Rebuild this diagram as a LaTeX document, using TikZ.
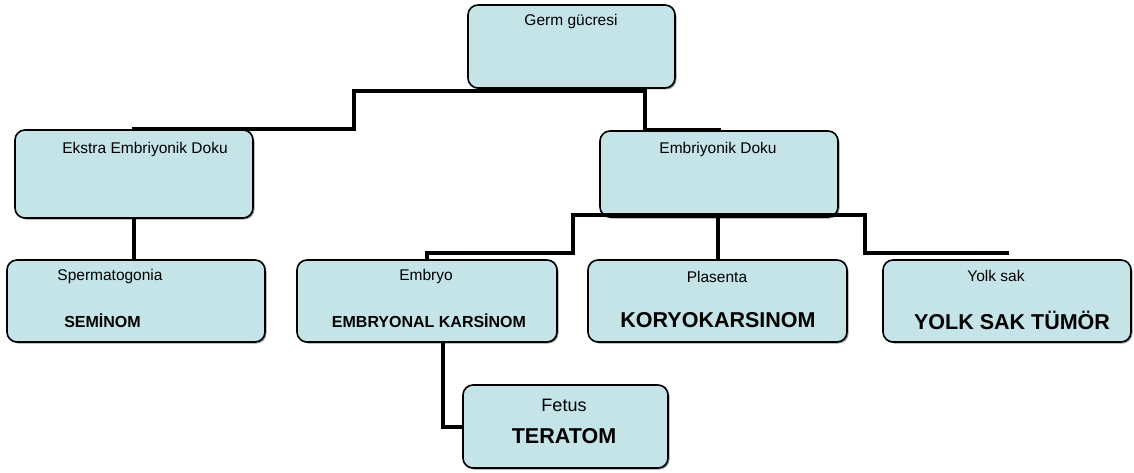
\documentclass[tikz,border=0pt]{standalone}
\usepackage{fontspec}
\setmainfont{Liberation Sans}
\usetikzlibrary{calc,shadows}
\definecolor{boxfill}{RGB}{197,228,232}
\begin{document}
\begin{tikzpicture}[x=1pt,y=-1pt,
  box/.style={draw=black, line width=1.6pt, fill=boxfill, rounded corners=10pt,
    inner sep=0pt, drop shadow={shadow xshift=1.5pt, shadow yshift=-1.5pt, fill=black!40, opacity=1}},
  conn/.style={line width=4pt, line join=miter, line cap=rect},
  small/.style={font=\fontsize{15.5}{18}\selectfont, inner sep=0pt},
  mid/.style={font=\fontsize{16}{19}\selectfont\bfseries, inner sep=0pt},
  big/.style={font=\fontsize{21.5}{25}\selectfont\bfseries, inner sep=0pt}]
\useasboundingbox (0,0) rectangle (1134,473);
% boxes
\node[box, minimum width=207pt, minimum height=83pt] (top) at (571.5,46.5) {};
\node[box, minimum width=238pt, minimum height=88pt] (ekstra) at (134,174) {};
\node[box, minimum width=238pt, minimum height=86pt] (embr) at (719,174) {};
\node[box, minimum width=258pt, minimum height=82pt] (sperm) at (136,301) {};
\node[box, minimum width=260pt, minimum height=82pt] (embryo) at (427,301) {};
\node[box, minimum width=259pt, minimum height=82pt] (plas) at (717.5,301) {};
\node[box, minimum width=248pt, minimum height=82pt] (yolk) at (1007,301) {};
\node[box, minimum width=205pt, minimum height=83pt] (fetus) at (565.5,426.5) {};
% connector helper points
\coordinate (b1) at (354,91);
\coordinate (b2) at (645,91);
\coordinate (b3) at (573,215);
\coordinate (b4) at (865,215);
\coordinate (f1) at (443,0);
% connectors
\draw[conn] (b1) -- (b2);
\draw[conn] (b1) |- (ekstra.north);
\draw[conn] (b2) |- (embr.north);
\draw[conn, line cap=butt] (ekstra.south) -- (ekstra.south |- sperm.north);
\draw[conn] (b3) -- (b4);
\draw[conn] (b3) |- ($(embryo.north)+(0,-6)$) -- (embryo.north);
\draw[conn, line cap=butt] (embr.south -| plas.north) -- (plas.north);
\draw[conn] (b4) |- ($(yolk.north)+(0,-6)$);
\draw[conn, line cap=butt] (embryo.south -| f1) |- (fetus.west);
% texts
\node[small] (t-top) at (571,21) {Germ gücresi};
\node[small] (t-ekstra) at (145,149) {Ekstra Embriyonik Doku};
\node[small] (t-embr) at (718,149) {Embriyonik Doku};
\node[small] (t-sperm) at (110,276) {Spermatogonia};
\node[mid] (t-sem) at (102.5,320.5) {SEMİNOM};
\node[small] (t-embryo) at (426,276) {Embryo};
\node[mid] (t-ek) at (429,321) {EMBRYONAL KARSİNOM};
\node[small] (t-plas) at (717,277) {Plasenta};
\node[big] (t-kor) at (718,320) {KORYOKARSINOM};
\node[small] (t-yolk) at (996,276) {Yolk sak};
\node[big] (t-yst) at (1012,320) {YOLK SAK TÜMÖR};
\node[small, font=\fontsize{18}{21}\selectfont] (t-fetus) at (564,405) {Fetus};
\node[big] (t-ter) at (564,436) {TERATOM};
\end{tikzpicture}
\end{document}
